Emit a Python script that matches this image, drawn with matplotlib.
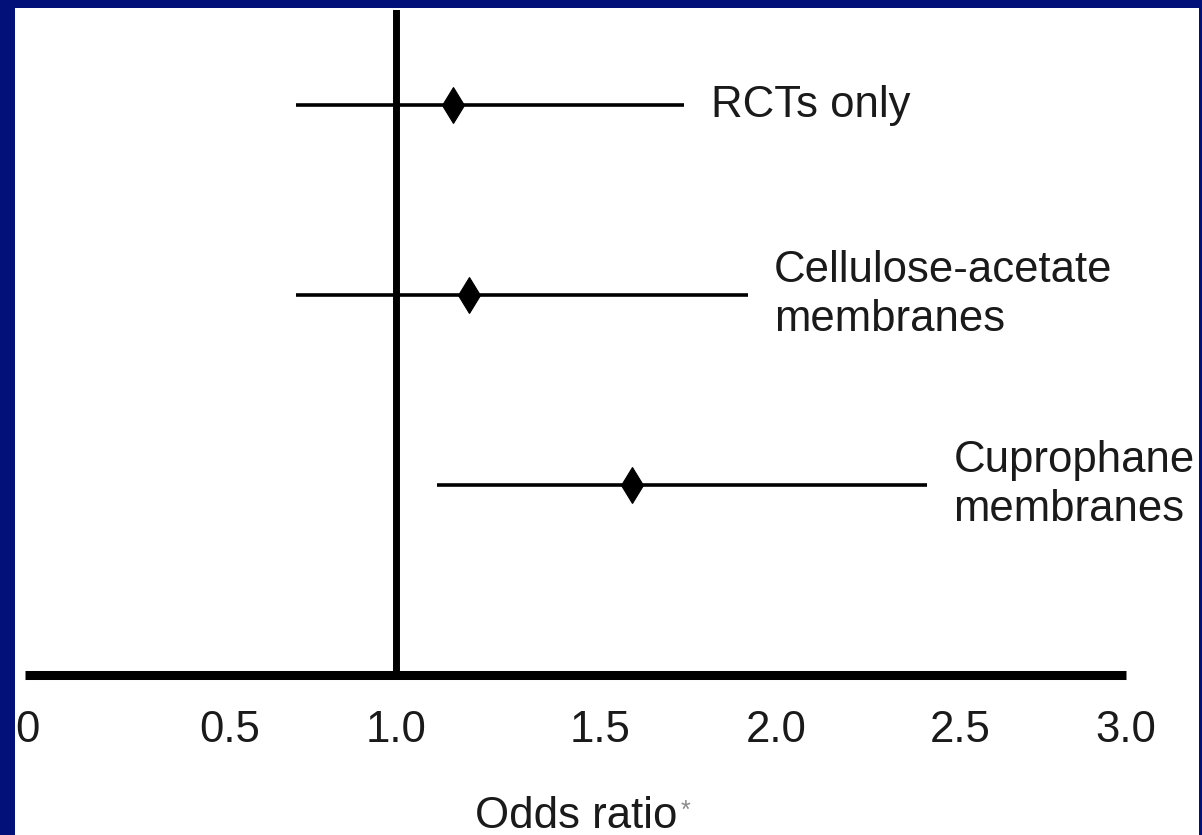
import numpy as np
import matplotlib
matplotlib.use("Agg")
from matplotlib import pyplot as plt
from matplotlib.patches import Rectangle

plt.rcParams['font.family'] = ['Liberation Sans', 'DejaVu Sans']

# subgroups, top to bottom
labels = ["RCTs only", "Cellulose-acetate\nmembranes", "Cuprophane\nmembranes"]
odds = [1.14, 1.18, 1.59]
ci_low = [0.70, 0.70, 1.10]
ci_high = [1.74, 1.92, 2.41]
rows = [3, 2, 1]

tick_vals = [0, 0.5, 1.0, 1.5, 2.0, 2.5, 3.0]
tick_labels = ["0", "0.5", "1.0", "1.5", "2.0", "2.5", "3.0"]

# the axis was drawn by hand, ticks are not evenly spaced (px along the axis)
tick_px = [27, 230, 396, 600, 776, 960, 1126]

W, H = 1202, 835
NAVY = '#02107A'
INK = '#1a1a1a'
FS = 31.5

_v = np.concatenate([[-1.0], tick_vals, [4.0]])
_p = np.concatenate([[tick_px[0] - 2 * (tick_px[1] - tick_px[0])], tick_px,
                     [tick_px[-1] + 2 * (tick_px[-1] - tick_px[-2])]])


def _fwd(v):
    return np.interp(v, _v, _p)


def _inv(p):
    return np.interp(p, _p, _v)


fig = plt.figure(figsize=(W / 100, H / 100), dpi=100, facecolor=NAVY)

# white card on the navy slide
fig.patches.append(Rectangle((15 / W, 0), (1199 - 15) / W, (H - 8) / H,
                             transform=fig.transFigure, facecolor='white',
                             edgecolor='none', zorder=-10))
# right edge of the slide sits on top of the text
fig.patches.append(Rectangle((1199 / W, 0), 3 / W, 1, transform=fig.transFigure,
                             facecolor=NAVY, edgecolor='none', zorder=10))

ax = fig.add_axes([25 / W, (H - 675) / H, (1126 - 25) / W, (675 - 10) / H])
ax.patch.set_visible(False)
ax.set_xscale('function', functions=(_fwd, _inv))
ax.set_xlim(_inv(25), 3.0)
ax.set_ylim(0, 3.5)

ax.axvline(1.0, color='black', lw=5, zorder=2)
ax.errorbar(odds, rows, xerr=[np.subtract(odds, ci_low), np.subtract(ci_high, odds)],
            fmt='d', color='black', ms=18.5, mew=0.8, elinewidth=2.6, capsize=0, zorder=3)

for i in range(len(labels)):
    ax.annotate(labels[i], xy=(ci_high[i], rows[i]), xytext=(19, 0),
                textcoords='offset points', ha='left', va='center',
                fontsize=FS, linespacing=1.26, color=INK, annotation_clip=False)

for s in ['top', 'right', 'left']:
    ax.spines[s].set_visible(False)
ax.spines['bottom'].set_linewidth(6.5)
ax.spines['bottom'].set_capstyle('butt')
ax.set_yticks([])
ax.set_xticks(tick_vals, tick_labels)
ax.xaxis.set_minor_locator(matplotlib.ticker.NullLocator())
ax.tick_params(axis='x', length=0, pad=25, labelsize=FS, labelcolor=INK)

fig.text(475 / W, 1 - 828 / H, 'Odds ratio', ha='left', va='baseline',
         fontsize=FS, color=INK)
fig.text(681 / W, 1 - 799 / H, '*', ha='left', va='top', fontsize=18, color='#8a8a8a')

fig.savefig('out.png', dpi=100, facecolor=fig.get_facecolor())
